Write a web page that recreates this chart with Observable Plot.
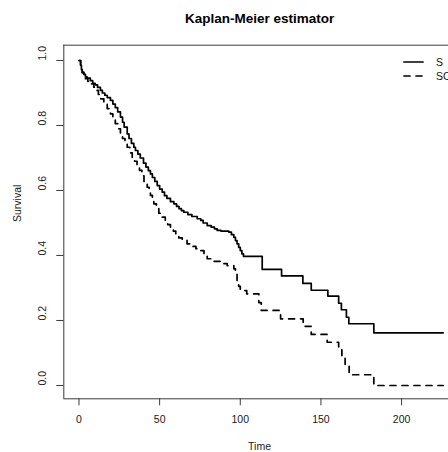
<!DOCTYPE html>
<html><head><meta charset="utf-8">
<script src="https://cdn.jsdelivr.net/npm/d3@7"></script>
<script src="https://cdn.jsdelivr.net/npm/@observablehq/plot@0.6"></script>
<style>
html,body{margin:0;padding:0;background:#fff;overflow:hidden;}
#wrap{position:relative;width:448px;height:452px;overflow:hidden;}
#legend{position:absolute;left:403px;top:55px;font-family:"Liberation Sans",Arial,sans-serif;font-size:10.5px;color:#111;}
#legend .row{display:flex;align-items:center;height:14px;white-space:nowrap;}
#legend svg{display:block;margin-right:12px;}
</style></head><body><div id="wrap"></div>
<script>
const seriesNames = ["S", "SC"];
const timeS = [0,1,1.5,2,3,4,5,7,8.5,10,11.5,13.3,14.5,16,17.5,19.5,21,22.5,24,25.7,27,28,29.9,31,32.5,34,35,36.5,38,40,41.5,43,44.3,45.5,47,48.5,50,51.6,53,54.5,56.7,58.8,60.5,62,63.5,65,67.5,70,73.3,75.5,77,79.5,82,84,85.7,88,92.9,94.5,96,97,98,99,100,101,102,113.6,125.6,138.8,144,154.3,161,162.7,165.8,167.3,182.8,225.8];
const survS = [1.000,0.985,0.972,0.964,0.957,0.950,0.946,0.938,0.930,0.925,0.917,0.908,0.900,0.893,0.886,0.877,0.866,0.855,0.842,0.826,0.810,0.795,0.774,0.760,0.745,0.733,0.723,0.712,0.700,0.684,0.672,0.661,0.651,0.640,0.628,0.615,0.604,0.595,0.584,0.576,0.566,0.559,0.551,0.544,0.538,0.533,0.526,0.520,0.513,0.508,0.500,0.492,0.487,0.482,0.477,0.475,0.472,0.464,0.456,0.446,0.436,0.425,0.415,0.405,0.397,0.357,0.337,0.314,0.293,0.275,0.253,0.233,0.210,0.190,0.162,0.162];
const timeSC = [0,1,1.5,2,3,4,5.5,7,9.2,10.5,12,13.5,15.4,17.5,19.5,21,22.5,24,25.7,27,28.5,29.9,31.5,33,34.5,36,37.5,39,40.3,42.3,43.5,44.3,45.5,46.4,48,49.5,51.6,53.5,55,56.7,58.5,60,61.9,64,67,70,72.5,75.3,77.5,79.5,83,88,91.9,96,97,98,99,100,104,111.5,113,125,139,144,153.9,161,163,165,167.5,182.8,225.8];
const survSC = [1.000,0.985,0.972,0.962,0.955,0.944,0.936,0.928,0.918,0.908,0.896,0.882,0.867,0.852,0.836,0.820,0.806,0.790,0.774,0.760,0.746,0.733,0.716,0.700,0.690,0.677,0.662,0.645,0.628,0.610,0.595,0.585,0.572,0.559,0.545,0.530,0.518,0.505,0.495,0.487,0.475,0.465,0.454,0.447,0.436,0.428,0.421,0.415,0.402,0.390,0.382,0.375,0.369,0.359,0.342,0.323,0.305,0.292,0.282,0.255,0.231,0.205,0.182,0.157,0.133,0.110,0.087,0.065,0.033,0.000,0.000];
const xTicks = [0, 50, 100, 150, 200];
const yTicks = [0, 0.2, 0.4, 0.6, 0.8, 1.0];
const titleText = "Kaplan-Meier estimator";
const xLabel = "Time";
const yLabel = "Survival";
const xDomain = [-9.42, 229.1];
const yDomain = [-0.041, 1.047];

const rows = [
  ...timeS.map((t, i) => ({series: seriesNames[0], time: t, surv: survS[i]})),
  ...timeSC.map((t, i) => ({series: seriesNames[1], time: t, surv: survSC[i]}))
];

const font = '"Liberation Sans", Arial, sans-serif';
const axisColor = "#3a3a3a";
const textColor = "#1a1a1a";

const chart = Plot.plot({
  width: 448, height: 452,
  marginLeft: 63.3, marginRight: 0, marginTop: 44.7, marginBottom: 53.7,
  style: {fontFamily: font, background: "#fff", color: textColor},
  x: {domain: xDomain},
  y: {domain: yDomain},
  marks: [
    Plot.ruleY(yDomain, {stroke: axisColor, strokeWidth: 1}),
    Plot.ruleX([xDomain[0]], {stroke: axisColor, strokeWidth: 1}),
    Plot.axisX({ticks: xTicks, tickSize: 7, tickFormat: () => "", label: null, stroke: axisColor}),
    Plot.axisY({ticks: yTicks, tickSize: 7, tickFormat: () => "", label: null, stroke: axisColor}),
    Plot.text(xTicks, {x: d => d, text: d => String(d), frameAnchor: "bottom", lineAnchor: "middle", dy: 21, fontSize: 10.5, fill: textColor}),
    Plot.text(yTicks, {y: d => d, text: d => d.toFixed(1), frameAnchor: "left", lineAnchor: "middle", dx: -21.5, rotate: -90, fontSize: 10.5, fill: textColor}),
    Plot.text([xLabel], {text: d => d, frameAnchor: "bottom", lineAnchor: "middle", dy: 48, dx: 3.4, fontSize: 10.5, fill: textColor}),
    Plot.text([yLabel], {text: d => d, frameAnchor: "left", lineAnchor: "middle", dx: -45.8, rotate: -90, fontSize: 10.5, fill: textColor}),
    Plot.text([titleText], {text: d => d, frameAnchor: "top", lineAnchor: "middle", dy: -26.5, dx: 3.4, fontSize: 13.5, fontWeight: "bold", fill: "#000"}),
    Plot.line(rows.filter(d => d.series === seriesNames[0]), {x: "time", y: "surv", curve: "step-after", stroke: "#000", strokeWidth: 1.7, strokeLinecap: "round", strokeLinejoin: "round"}),
    Plot.line(rows.filter(d => d.series === seriesNames[1]), {x: "time", y: "surv", curve: "step-after", stroke: "#000", strokeWidth: 1.7, strokeDasharray: "6,6", strokeLinecap: "round", strokeLinejoin: "round"})
  ]
});
const wrap = document.getElementById("wrap");
wrap.appendChild(chart);

const legend = document.createElement("div");
legend.id = "legend";
seriesNames.forEach((name, i) => {
  const row = document.createElement("div");
  row.className = "row";
  const dash = i === 0 ? "" : 'stroke-dasharray="6,6"';
  row.innerHTML = `<svg width="21" height="14"><line x1="1" x2="20" y1="7" y2="7" stroke="#000" stroke-width="1.7" stroke-linecap="round" ${dash}/></svg><span>${name}</span>`;
  legend.appendChild(row);
});
wrap.appendChild(legend);
</script>
</body></html>
